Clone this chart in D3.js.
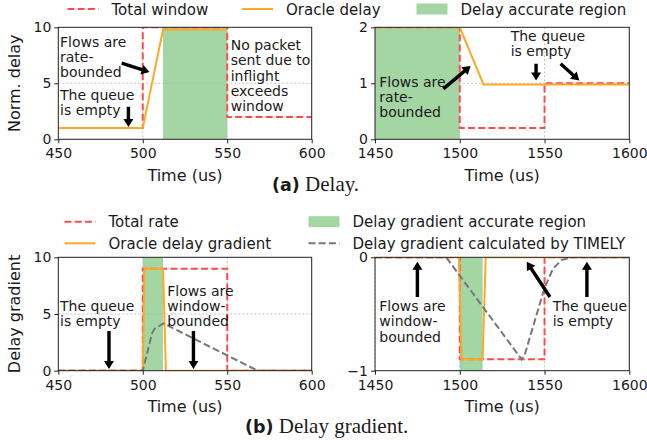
<!DOCTYPE html>
<html><head><meta charset="utf-8">
<script src="https://cdn.jsdelivr.net/npm/d3@7"></script>
<style>
body{margin:0;background:#fff}
svg{display:block}
text{font-family:"DejaVu Sans",sans-serif;fill:#1a1a1a}
</style>
</head><body>
<svg id="c" width="647" height="440"></svg>
<script>
// ---------- data ----------
// (a) Delay, left window 450-600 us
const timeWindowA = [450, 500, 500, 550, 550, 600];
const totalWindowA = [1, 1, 10, 10, 2, 2];
const timeOracleA = [450, 500, 512, 550];
const oracleDelayA = [1, 1, 9.8, 9.8];
const accurateA = [512, 550];
// (a) Delay, right window 1450-1600 us
const timeWindowB = [1450, 1500, 1500, 1550, 1550, 1600];
const totalWindowB = [2, 2, 0.2, 0.2, 1, 1];
const timeOracleB = [1450, 1500, 1514, 1600];
const oracleDelayB = [2, 2, 0.98, 0.98];
const accurateB = [1450, 1500];
// (b) Delay gradient, left window
const timeRateC = [450, 500, 500, 550, 550, 600];
const totalRateC = [0, 0, 9, 9, 0, 0];
const timeOracleC = [450, 500, 501, 512, 513.7, 600];
const oracleGradC = [0, 0, 9, 9, 0, 0];
const timeTimelyC = [450, 500, 505.5, 507, 512.3, 568, 600];
const timelyGradC = [0, 0, 3.3, 3.7, 4.17, 0, 0];
const accurateC = [500, 512];
// (b) Delay gradient, right window
const timeRateD = [1450, 1500, 1500, 1550, 1550, 1600];
const totalRateD = [0, 0, -0.9, -0.9, 0, 0];
const timeOracleD = [1450, 1499.5, 1501, 1513.5, 1515.3, 1600];
const oracleGradD = [0, 0, -0.9, -0.9, 0, 0];
const timeTimelyD = [1450, 1492, 1536.5, 1538.5, 1550, 1555, 1560, 1566, 1600];
const timelyGradD = [0, 0, -0.9, -0.85, -0.27, -0.1, -0.025, 0, 0];
const accurateD = [1500, 1513.5];
// ticks
const xTicksLeft = [450, 500, 550, 600];
const xTicksRight = [1450, 1500, 1550, 1600];
const yTicksA = [0, 5, 10];
const yTicksB = [0, 1, 2];
const yTicksC = [0, 5, 10];
const yTicksD = [-1, 0];
// legend labels
const legendTop = ["Total window", "Oracle delay", "Delay accurate region"];
const legendBottom = ["Total rate", "Delay gradient accurate region", "Oracle delay gradient", "Delay gradient calculated by TIMELY"];

// ---------- style ----------
const RED = "#ff4b4b", ORANGE = "#ffa726", GREEN = "#a3d6a3", GRAY = "#777777";
const svg = d3.select("#c");
const TICKFS = 14, ANNFS = 14;

let clipId = 0;
function panel(o) {
  const x = d3.scaleLinear().domain(o.xd).range([o.l, o.r]);
  const y = d3.scaleLinear().domain(o.yd).range([o.b, o.t]);
  const g = svg.append("g");
  const id = "clip" + (clipId++);
  svg.append("clipPath").attr("id", id).append("rect")
    .attr("x", o.l).attr("y", o.t).attr("width", o.r - o.l).attr("height", o.b - o.t);
  const inner = g.append("g").attr("clip-path", `url(#${id})`);
  inner.append("rect").attr("x", x(o.region[0])).attr("width", x(o.region[1]) - x(o.region[0]))
    .attr("y", o.t).attr("height", o.b - o.t).attr("fill", GREEN);
  o.xt.forEach(v => inner.append("line").attr("x1", x(v)).attr("x2", x(v)).attr("y1", o.t).attr("y2", o.b)
    .attr("stroke", "#b5b5b5").attr("stroke-width", 0.8).attr("stroke-dasharray", "2,2"));
  o.yt.forEach(v => inner.append("line").attr("y1", y(v)).attr("y2", y(v)).attr("x1", o.l).attr("x2", o.r)
    .attr("stroke", "#b5b5b5").attr("stroke-width", 0.8).attr("stroke-dasharray", "2,2"));
  const line = d3.line().x(d => x(d[0])).y(d => y(d[1]));
  o.series.forEach(s => {
    inner.append("path").attr("d", line(d3.zip(s.t, s.v))).attr("fill", "none")
      .attr("stroke", s.c).attr("stroke-width", 2).attr("stroke-dasharray", s.dash || null)
      .attr("stroke-linejoin", "miter");
  });
  const ax = g.append("g").attr("transform", `translate(0,${o.b})`)
    .call(d3.axisBottom(x).tickValues(o.xt).tickSize(4).tickPadding(5).tickSizeOuter(0).tickFormat(d3.format("d")));
  const ay = g.append("g").attr("transform", `translate(${o.l},0)`)
    .call(d3.axisLeft(y).tickValues(o.yt).tickSize(4).tickPadding(3).tickSizeOuter(0).tickFormat(d3.format("d")));
  [ax, ay].forEach(a => {
    a.select(".domain").remove();
    a.selectAll("line").attr("stroke", "#222").attr("stroke-width", 1);
    a.selectAll("text").attr("font-size", TICKFS).attr("font-family", "DejaVu Sans").attr("fill", "#1a1a1a");
  });
  g.append("rect").attr("x", o.l).attr("y", o.t).attr("width", o.r - o.l).attr("height", o.b - o.t)
    .attr("fill", "none").attr("stroke", "#222").attr("stroke-width", 1);
  g.append("text").attr("x", (o.l + o.r) / 2).attr("y", o.xlY).attr("text-anchor", "middle")
    .attr("font-size", 16).text("Time (us)");
  if (o.ylabel) {
    g.append("text").attr("transform", `translate(${o.ylX},${(o.t + o.b) / 2}) rotate(-90)`)
      .attr("text-anchor", "middle").attr("font-size", 16).text(o.ylabel);
  }
  (o.texts || []).forEach(tx => {
    const t = g.append("text").attr("x", tx.x).attr("y", tx.y).attr("font-size", ANNFS);
    tx.lines.forEach((ln, i) => t.append("tspan").attr("x", tx.x).attr("dy", i ? 15.3 : 0).text(ln));
  });
  (o.arrows || []).forEach(a => arrow(g, x(a[0]), y(a[1]), x(a[2]), y(a[3])));
  return {x, y};
}

function arrow(g, x1, y1, x2, y2) {
  const dx = x2 - x1, dy = y2 - y1, L = Math.hypot(dx, dy);
  const ux = dx / L, uy = dy / L, px = -uy, py = ux;
  const hl = 8, hw = 5, sw = 1.7;
  const bx = x2 - ux * hl, by = y2 - uy * hl;
  const pts = [
    [x1 + px * sw, y1 + py * sw], [bx + px * sw, by + py * sw], [bx + px * hw, by + py * hw],
    [x2, y2], [bx - px * hw, by - py * hw], [bx - px * sw, by - py * sw], [x1 - px * sw, y1 - py * sw]
  ];
  g.append("path").attr("d", "M" + pts.map(p => p.join(",")).join("L") + "Z").attr("fill", "#000");
}

const L0 = 58.3, R0 = 311.7, L1 = 375, R1 = 629.3;
const TT = 27.3, TB = 139.3, BT = 257.3, BB = 370.7;

panel({xd: [450, 600], yd: [0, 10], l: L0, r: R0, t: TT, b: TB, xt: xTicksLeft, yt: yTicksA,
  region: accurateA, ylabel: "Norm. delay", ylX: 20, xlY: 181,
  series: [{t: timeWindowA, v: totalWindowA, c: RED, dash: "7,3.2"}, {t: timeOracleA, v: oracleDelayA, c: ORANGE}],
  texts: [{x: 60, y: 46.7, lines: ["Flows are", "rate-", "bounded"]}, {x: 60, y: 100, lines: ["The queue", "is empty"]},
          {x: 230.7, y: 50, lines: ["No packet", "sent due to", "inflight", "exceeds", "window"]}],
  arrows: [[487.5, 6.8, 504, 6.0], [491.5, 2.9, 491.5, 1.1]]
});
panel({xd: [1450, 1600], yd: [0, 2], l: L1, r: R1, t: TT, b: TB, xt: xTicksRight, yt: yTicksB,
  region: accurateB, xlY: 181,
  series: [{t: timeWindowB, v: totalWindowB, c: RED, dash: "7,3.2"}, {t: timeOracleB, v: oracleDelayB, c: ORANGE}],
  texts: [{x: 379.3, y: 86.5, lines: ["Flows are", "rate-", "bounded"]}, {x: 510.7, y: 41, lines: ["The queue", "is empty"]}],
  arrows: [[1490.3, 0.9, 1506.4, 1.31], [1545, 1.35, 1545, 1.05], [1559.5, 1.35, 1570.5, 1.05]]
});
panel({xd: [450, 600], yd: [0, 10], l: L0, r: R0, t: BT, b: BB, xt: xTicksLeft, yt: yTicksC,
  region: accurateC, ylabel: "Delay gradient", ylX: 20, xlY: 412,
  series: [{t: timeRateC, v: totalRateC, c: RED, dash: "7,3.2"}, {t: timeOracleC, v: oracleGradC, c: ORANGE},
           {t: timeTimelyC, v: timelyGradC, c: GRAY, dash: "7,3.2"}],
  texts: [{x: 60, y: 311, lines: ["The queue", "is empty"]}, {x: 167.3, y: 295.5, lines: ["Flows are", "window-", "bounded"]}],
  arrows: [[480, 3.5, 480, 0.15], [530, 3.5, 530, 0.15]]
});
panel({xd: [1450, 1600], yd: [-1, 0], l: L1, r: R1, t: BT, b: BB, xt: xTicksRight, yt: yTicksD,
  region: accurateD, xlY: 412,
  series: [{t: timeRateD, v: totalRateD, c: RED, dash: "7,3.2"}, {t: timeOracleD, v: oracleGradD, c: ORANGE},
           {t: timeTimelyD, v: timelyGradD, c: GRAY, dash: "7,3.2"}],
  texts: [{x: 379.3, y: 311, lines: ["Flows are", "window-", "bounded"]}, {x: 552.7, y: 310.5, lines: ["The queue", "is empty"]}],
  arrows: [[1475, -0.35, 1475, -0.04], [1553.2, -0.35, 1539.5, -0.04], [1575, -0.35, 1575, -0.04]]
});

// ---------- legends ----------
function legendItem(x, y, kind, color, label) {
  const g = svg.append("g");
  if (kind === "patch") {
    g.append("rect").attr("x", x).attr("y", y - 5.5).attr("width", 31).attr("height", 11).attr("fill", color);
  } else {
    g.append("line").attr("x1", x).attr("x2", x + 31).attr("y1", y).attr("y2", y).attr("stroke", color)
      .attr("stroke-width", 2).attr("stroke-dasharray", kind === "dash" ? "7,3.2" : null);
  }
  g.append("text").attr("x", x + 44).attr("y", y + 5.5).attr("font-size", 15).text(label);
}
legendItem(67.5, 9, "dash", RED, legendTop[0]);
legendItem(242, 9, "solid", ORANGE, legendTop[1]);
legendItem(416.5, 9, "patch", GREEN, legendTop[2]);
legendItem(64.5, 221.7, "dash", RED, legendBottom[0]);
legendItem(308.5, 221.7, "patch", GREEN, legendBottom[1]);
legendItem(64.5, 243.3, "solid", ORANGE, legendBottom[2]);
legendItem(308.5, 243.3, "dash", GRAY, legendBottom[3]);

// ---------- captions ----------
function caption(x, y, lab, rest) {
  const t = svg.append("text").attr("x", x).attr("y", y);
  t.append("tspan").attr("font-family", "DejaVu Sans").attr("font-weight", "bold").attr("font-size", 17.5).text(lab);
  t.append("tspan").attr("font-family", "Liberation Serif").attr("font-size", 21).text("\u00a0" + rest);
}
caption(272, 190.5, "(a)", "Delay.");
caption(245, 432.5, "(b)", "Delay gradient.");
</script>
</body></html>
